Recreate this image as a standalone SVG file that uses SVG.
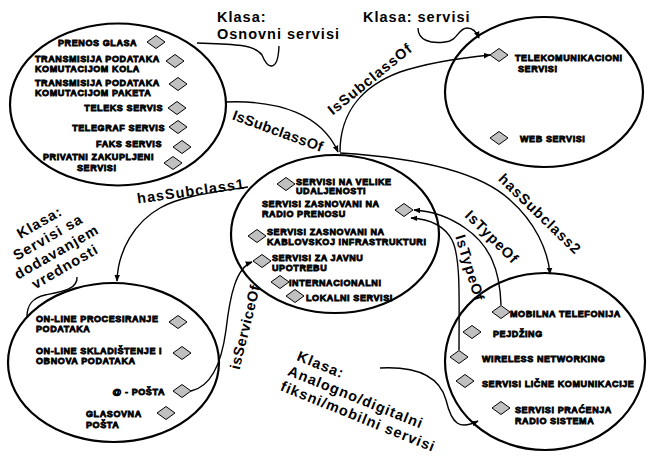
<svg xmlns="http://www.w3.org/2000/svg" width="647" height="456" viewBox="0 0 647 456">
<style>
.el{fill:none;stroke:#000;stroke-width:2.2}
.dm{fill:#c0c0c0;stroke:#000;stroke-width:1}
.n{font-family:"Liberation Sans",Arial,sans-serif;font-size:9px;font-weight:bold;letter-spacing:0.6px;fill:#000;stroke:#000;stroke-width:0.8}
.l{font-family:"Liberation Sans",Arial,sans-serif;font-size:14.5px;font-weight:bold;letter-spacing:1px;fill:#000}
.c{fill:none;stroke:#000;stroke-width:1.4}
.ca{fill:none;stroke:#000;stroke-width:1.4;marker-end:url(#ar)}
</style>
<defs>
<marker id="ar" viewBox="0 0 10 10" refX="9" refY="5" markerWidth="7" markerHeight="7" orient="auto" markerUnits="userSpaceOnUse"><path d="M0,1 L10,5 L0,9 z" fill="#000"/></marker>
<path id="d" class="dm" d="M-9,0 L0,-6.5 L9,0 L0,6.5 Z"/>
</defs>
<rect width="647" height="456" fill="#fff"/>

<g id="osnovni">
<ellipse class="el" cx="118" cy="104.5" rx="108" ry="81"/>
<text class="n" x="58" y="45.5">PRENOS GLASA</text><use href="#d" x="156" y="42"/>
<text class="n" x="35" y="61.5">TRANSMISIJA PODATAKA</text><text class="n" x="35" y="71.5">KOMUTACIJOM KOLA</text><use href="#d" x="175" y="61"/>
<text class="n" x="35" y="85.5">TRANSMISIJA PODATAKA</text><text class="n" x="35" y="95.5">KOMUTACIJOM PAKETA</text><use href="#d" x="178" y="84"/>
<text class="n" x="163" y="110.5" text-anchor="end">TELEKS SERVIS</text><use href="#d" x="177" y="108"/>
<text class="n" x="165" y="130.5" text-anchor="end">TELEGRAF SERVIS</text><use href="#d" x="178" y="127"/>
<text class="n" x="162" y="146.5" text-anchor="end">FAKS SERVIS</text><use href="#d" x="182" y="147"/>
<text class="n" x="43" y="159.5">PRIVATNI ZAKUPLJENI</text><text class="n" x="77" y="170.5">SERVISI</text><use href="#d" x="173" y="163"/>
</g>

<g id="servisi">
<ellipse class="el" cx="544" cy="92" rx="99" ry="75"/>
<use href="#d" x="499" y="55"/><text class="n" x="515" y="60.5">TELEKOMUNIKACIONI</text><text class="n" x="518" y="71.5">SERVISI</text>
<use href="#d" x="499" y="138"/><text class="n" x="520" y="141.5">WEB SERVISI</text>
</g>

<g id="tipovi">
<ellipse class="el" cx="335" cy="234" rx="104" ry="79"/>
<use href="#d" x="286" y="184"/><text class="n" x="296" y="184.5">SERVISI NA VELIKE</text><text class="n" x="296" y="194">UDALJENOSTI</text>
<text class="n" x="262" y="206.5">SERVISI ZASNOVANI NA</text><text class="n" x="262" y="216.5">RADIO PRENOSU</text><use href="#d" x="404" y="210"/>
<use href="#d" x="257" y="236"/><text class="n" x="267" y="234.5">SERVISI ZASNOVANI NA</text><text class="n" x="267" y="244.5">KABLOVSKOJ INFRASTRUKTURI</text>
<use href="#d" x="262" y="261"/><text class="n" x="272" y="260.5">SERVISI ZA JAVNU</text><text class="n" x="272" y="270.5">UPOTREBU</text>
<use href="#d" x="280" y="282"/><text class="n" x="289" y="285.5">INTERNACIONALNI</text>
<use href="#d" x="295" y="296"/><text class="n" x="306" y="300.5">LOKALNI SERVISI</text>
</g>

<g id="dodatni">
<ellipse class="el" cx="113.5" cy="362.5" rx="105.5" ry="79.5"/>
<text class="n" x="36" y="321.5">ON-LINE PROCESIRANJE</text><text class="n" x="36" y="331.5">PODATAKA</text><use href="#d" x="178" y="322"/>
<text class="n" x="36" y="353.5">ON-LINE SKLADIŠTENJE I</text><text class="n" x="36" y="363.5">OBNOVA PODATAKA</text><use href="#d" x="182" y="353"/>
<text class="n" x="165" y="394.5" text-anchor="end">@ - POŠTA</text><use href="#d" x="182" y="391"/>
<text class="n" x="86" y="416.5">GLASOVNA</text><text class="n" x="86" y="427.5">POŠTA</text><use href="#d" x="166" y="413"/>
</g>

<g id="mobilni">
<ellipse class="el" cx="545" cy="361.5" rx="100" ry="88.5"/>
<use href="#d" x="501" y="312"/><text class="n" x="510" y="316.5">MOBILNA TELEFONIJA</text>
<use href="#d" x="472" y="332"/><text class="n" x="493" y="336.5">PEJDŽING</text>
<use href="#d" x="459" y="357"/><text class="n" x="482" y="361.5">WIRELESS NETWORKING</text>
<use href="#d" x="465" y="381"/><text class="n" x="482" y="386.5">SERVISI LIČNE KOMUNIKACIJE</text>
<use href="#d" x="501" y="408"/><text class="n" x="515" y="412.5">SERVISI PRAĆENJA</text><text class="n" x="515" y="423.5">RADIO SISTEMA</text>
</g>

<g id="connectors">
<path class="ca" d="M226,102 C280,100 322,115 338,152"/>
<path class="ca" d="M340,152 C340,110 365,85 400,72 C430,62 460,58 490,55"/>
<path class="ca" d="M248,187 C215,192 180,196 160,208 C135,222 118,250 117,281"/>
<path class="ca" d="M340,153 C420,158 480,172 510,200 C535,222 548,250 550,274"/>
<path class="ca" d="M501,305 C500,270 490,245 465,228 C448,216 430,211 414,210"/>
<path class="ca" d="M459,350 C459,300 461,258 452,240 C444,225 428,219 411,218"/>
<path class="ca" d="M191,391 C205,388 220,375 226,330 C230,295 236,268 252,262"/>
<path class="c" d="M197,43 C230,44 255,44 262,55 C268,70 278,72 279,46"/>
<path class="ca" d="M418,28 C418,40 430,44 445,42 C458,41 458,28 467,28 C474,28 477,33 479,38"/>
<path class="c" d="M77,277 C78,290 60,292 45,295 C32,298 27,305 27,317"/>
<path class="ca" d="M380,368 C420,366 440,378 446,400 C452,425 460,430 478,421"/>
<text class="l" transform="translate(278,131) rotate(20)" y="5" text-anchor="middle" style="letter-spacing:0.3px">IsSubclassOf</text>
<text class="l" transform="translate(370,79) rotate(-39)" y="5" text-anchor="middle">IsSubclassOf</text>
<text class="l" transform="translate(191,191) rotate(-8)" y="5" text-anchor="middle">hasSubclass1</text>
<text class="l" transform="translate(540,214) rotate(44)" y="5" text-anchor="middle">hasSubclass2</text>
<text class="l" transform="translate(492,237) rotate(45)" y="5" text-anchor="middle">IsTypeOf</text>
<text class="l" transform="translate(470,268) rotate(73)" y="5" text-anchor="middle">IsTypeOf</text>
<text class="l" transform="translate(245,327) rotate(-76)" y="5" text-anchor="middle" style="letter-spacing:0.6px">isServiceOf</text>
</g>

<g id="notes">
<text class="l" x="217" y="22">Klasa:</text>
<text class="l" x="217" y="39">Osnovni servisi</text>
<text class="l" x="363" y="22">Klasa: servisi</text>
<g transform="translate(52,244) rotate(-30)" text-anchor="middle">
<text class="l" y="-20">Klasa:</text>
<text class="l" y="-3">Servisi sa</text>
<text class="l" y="14">dodavanjem</text>
<text class="l" y="31">vrednosti</text>
</g>
<g transform="translate(296,360) rotate(22)">
<text class="l" x="0" y="0">Klasa:</text>
<text class="l" x="-3" y="17">Analogno/digitalni</text>
<text class="l" x="-4" y="34">fiksni/mobilni servisi</text>
</g>
</g>
</svg>
